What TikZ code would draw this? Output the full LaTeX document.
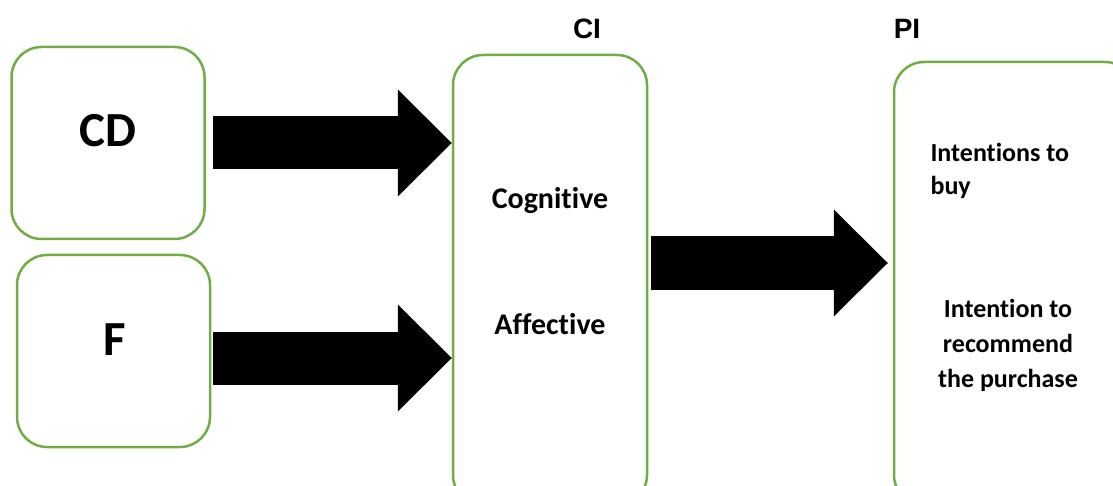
\documentclass[tikz,border=0pt]{standalone}
\usepackage{fontspec}
\setmainfont{Carlito}[Ligatures=NoCommon]
\newfontfamily\headfont{Liberation Sans}
\usetikzlibrary{arrows.meta, positioning}
\definecolor{boxgreen}{HTML}{70AD47}

\begin{document}
\begin{tikzpicture}[
  x=1pt, y=-1pt,
  box/.style={draw=boxgreen, line width=2.5pt, rounded corners=30pt, minimum width=193pt},
  lblbig/.style={anchor=base, font=\fontsize{49}{59}\selectfont\bfseries},
  lblmid/.style={anchor=base, font=\fontsize{30}{36}\selectfont\bfseries},
  lblsmall/.style={anchor=base, font=\fontsize{26}{33}\selectfont\bfseries},
  lblhead/.style={anchor=base, font=\headfont\fontsize{28}{34}\selectfont\bfseries},
  arr/.style={line width=53pt, -{Triangle[length=54pt, width=107pt, line width=0pt]}},
]
\useasboundingbox (0,0) rectangle (1113,486);

% Inputs
\node[box, minimum height=192pt] (cd) at (108,143) {};
\node[box, minimum height=192pt] (f) at (113.5,351) {};
\node[lblbig] (cdtxt) at (108,147) {CD};
\node[lblbig] (ftxt) at (115,355) {F};

% CI
\node[box, minimum width=194pt, minimum height=450pt] (ci) at (550,280) {};
\node[lblhead] (citxt) at (587,39) {CI};
\node[lblmid] (cog) at (550,209) {Cognitive};
\node[lblmid] (aff) at (550,334) {Affective};

% PI
\node[box, minimum width=241pt, minimum height=443pt] (pi) at (1014.5,283.5) {};
\node[lblhead] (pitxt) at (907,39) {PI};
\node[lblsmall, anchor=base west, align=left] (buy) at (927,195) {Intentions to\\buy};
\node[lblsmall, align=center, font=\fontsize{26}{35}\selectfont\bfseries] (rec) at (1008,387) {Intention to\\recommend\\the purchase};

% Arrows
\coordinate (fout) at ([yshift=-7pt]f.east);
\coordinate (ciout) at ([yshift=17pt]ci.east);
\draw[arr, shorten <=7pt] (cd.east) -- (cd.east -| ci.west);
\draw[arr, shorten <=2pt] (fout) -- (fout -| ci.west);
\draw[arr, shorten <=3pt, shorten >=5pt] (ciout) -- (ciout -| pi.west);

\end{tikzpicture}
\end{document}
